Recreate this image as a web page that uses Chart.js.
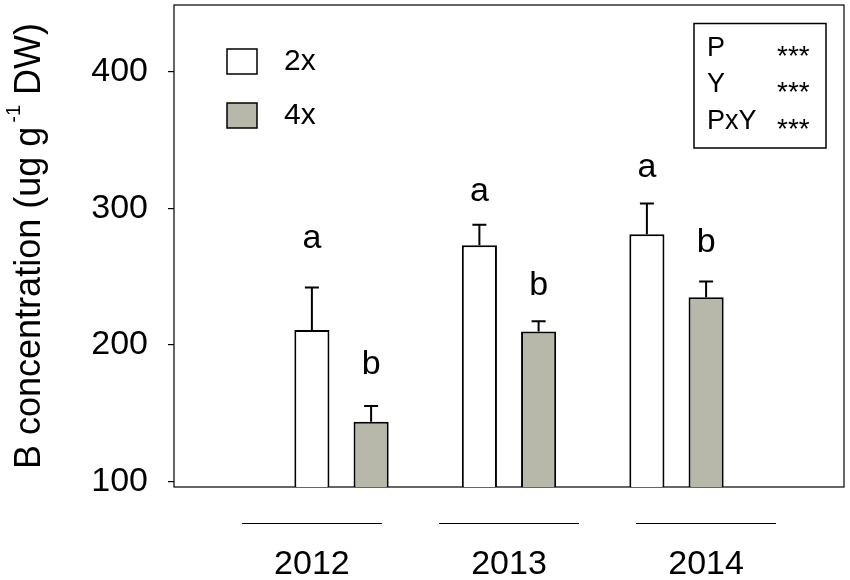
<!DOCTYPE html>
<html>
<head>
<meta charset="utf-8">
<script src="https://cdn.jsdelivr.net/npm/chart.js@4.4.0/dist/chart.umd.min.js"></script>
<style>
    html, body { margin: 0; padding: 0; background: #fff; }
    #caixa { width: 850px; height: 580px; }
</style>
</head>
<body>
<div id="caixa"><canvas id="grafico-barras"></canvas></div>
<script>
// Dados
const anos = ['2012', '2013', '2014'];
const valores2x = [211, 273, 281];
const valores4x = [144, 210, 235];
const erro2x = [31, 15, 22.5];
const erro4x = [11.5, 7.5, 11.5];
const letras2x = ['a', 'a', 'a'];
const letras4x = ['b', 'b', 'b'];
const series = ['2x', '4x'];
const ticksY = [100, 200, 300, 400];
const efeitos = ['P', 'Y', 'PxY'];
const signif = ['***', '***', '***'];

const fonte = '"Liberation Sans", Arial, sans-serif';
const cores = ['#ffffff', '#b7b7aa'];

// indices (de 0 a 34) onde ficam os rotulos dos anos no eixo de baixo
const nPos = 35;
const posAnos = [7, 17, 27];
// distancia em px entre a ponta do erro e a letra
const folgaLetras = [[40, 24, 26], [32, 26, 29]];

// categorias vazias nas pontas para centralizar os grupos
const categorias = [''].concat(anos).concat(['']);
const dados2x = [null].concat(valores2x).concat([null]);
const dados4x = [null].concat(valores4x).concat([null]);

// eixo dos rotulos dos anos: so 3 posicoes com texto
const rotulosAnos = [];
for (let i = 0; i < nPos; i++) {
    const k = posAnos.indexOf(i);
    rotulosAnos.push(k >= 0 ? anos[k] : '');
}

// tira o espaco extra que o Chart.js reserva para os rotulos das pontas
function semPadding(scale) {
    scale.paddingTop = 0;
    scale.paddingBottom = 0;
    scale.paddingLeft = 0;
    scale.paddingRight = 0;
}

const extras = {
    id: 'extras',
    beforeDatasetsDraw(chart) {
        const ctx = chart.ctx;
        const a = chart.chartArea;
        ctx.save();
        ctx.strokeStyle = '#000';
        ctx.lineWidth = 1.2;
        ctx.strokeRect(a.left, a.top, a.right - a.left, a.bottom - a.top);
        ctx.restore();
    },
    afterDatasetsDraw(chart) {
        const ctx = chart.ctx;
        const y = chart.scales.y;
        const erros = [erro2x, erro4x];
        const letras = [letras2x, letras4x];
        ctx.save();
        ctx.strokeStyle = '#000';
        ctx.fillStyle = '#000';
        ctx.lineWidth = 2;
        ctx.font = '34px ' + fonte;
        ctx.textAlign = 'center';
        ctx.textBaseline = 'alphabetic';
        chart.data.datasets.forEach(function (ds, i) {
            const meta = chart.getDatasetMeta(i);
            for (let j = 0; j < anos.length; j++) {
                const barra = meta.data[j + 1];
                const v = ds.data[j + 1];
                const topo = y.getPixelForValue(v + erros[i][j]);
                ctx.beginPath();
                ctx.moveTo(barra.x, barra.y);
                ctx.lineTo(barra.x, topo);
                ctx.moveTo(barra.x - 7, topo);
                ctx.lineTo(barra.x + 7, topo);
                ctx.stroke();
                ctx.fillText(letras[i][j], barra.x, topo - folgaLetras[i][j]);
            }
        });
        ctx.restore();
    },
    afterDraw(chart) {
        const ctx = chart.ctx;
        const a = chart.chartArea;
        ctx.save();

        // Legenda
        ctx.lineWidth = 1.5;
        ctx.strokeStyle = '#000';
        ctx.font = '30px ' + fonte;
        ctx.textAlign = 'left';
        ctx.textBaseline = 'middle';
        for (let i = 0; i < series.length; i++) {
            const bx = a.left + 53;
            const by = a.top + 44 + i * 54;
            ctx.fillStyle = cores[i];
            ctx.fillRect(bx, by, 30, 25);
            ctx.strokeRect(bx, by, 30, 25);
            ctx.fillStyle = '#000';
            ctx.fillText(series[i], bx + 57, by + 13);
        }

        // Caixa de significancia
        const sx = a.right - 150;
        const sy = a.top + 18.5;
        ctx.lineWidth = 1.5;
        ctx.strokeRect(sx, sy, 132, 124.5);
        for (let i = 0; i < efeitos.length; i++) {
            const cy = sy + 25 + i * 36.5;
            ctx.font = '27px ' + fonte;
            ctx.textBaseline = 'middle';
            ctx.fillText(efeitos[i], sx + 13, cy);
            ctx.font = '28px ' + fonte;
            ctx.textBaseline = 'alphabetic';
            ctx.fillText(signif[i], sx + 83, cy + 16);
        }

        // Linhas acima dos anos
        const x2 = chart.scales.x2;
        ctx.lineWidth = 1;
        for (let i = 0; i < posAnos.length; i++) {
            const px = x2.getPixelForValue(posAnos[i]);
            ctx.beginPath();
            ctx.moveTo(px - 70, a.bottom + 36.5);
            ctx.lineTo(px + 70, a.bottom + 36.5);
            ctx.stroke();
        }

        // Titulo do eixo Y com expoente
        const partes = [
            ['B concentration (ug g', 36, 0],
            ['-1', 20, 20],
            [' DW)', 36, 0]
        ];
        let total = 0;
        const larguras = [];
        for (let i = 0; i < partes.length; i++) {
            ctx.font = partes[i][1] + 'px ' + fonte;
            const w = ctx.measureText(partes[i][0]).width + (i == 1 ? 4 : 0);
            larguras.push(w);
            total += w;
        }
        ctx.translate(40, (a.top + a.bottom) / 2);
        ctx.rotate(-Math.PI / 2);
        ctx.textAlign = 'left';
        ctx.textBaseline = 'alphabetic';
        let pos = -total / 2;
        for (let i = 0; i < partes.length; i++) {
            ctx.font = partes[i][1] + 'px ' + fonte;
            ctx.fillText(partes[i][0], pos + (i == 1 ? 4 : 0), -partes[i][2]);
            pos += larguras[i];
        }
        ctx.restore();
    }
};

const ctx = document.getElementById('grafico-barras');
new Chart(ctx, {
    type: 'bar',
    data: {
        labels: categorias,
        datasets: [{
            label: series[0],
            data: dados2x,
            backgroundColor: cores[0],
            borderColor: '#000',
            borderWidth: 2,
            categoryPercentage: 0.707,
            barPercentage: 0.593
        }, {
            label: series[1],
            data: dados4x,
            backgroundColor: cores[1],
            borderColor: '#000',
            borderWidth: 2,
            categoryPercentage: 0.707,
            barPercentage: 0.593
        }]
    },
    options: {
        responsive: true,
        maintainAspectRatio: false,
        animation: false,
        layout: {
            padding: { top: 5, right: 6, left: 0, bottom: 0 }
        },
        scales: {
            x: {
                display: false,
                offset: false,
                grid: { display: false }
            },
            x2: {
                type: 'category',
                labels: rotulosAnos,
                position: 'bottom',
                offset: false,
                grid: { display: false, drawTicks: false },
                border: { display: false },
                afterFit: function (scale) {
                    scale.height = 93;
                    semPadding(scale);
                },
                ticks: {
                    autoSkip: false,
                    maxRotation: 0,
                    padding: 57,
                    color: '#000',
                    font: { size: 34, family: fonte }
                }
            },
            y: {
                min: 96.3,
                max: 448.5,
                border: { display: false },
                grid: {
                    display: true,
                    drawOnChartArea: false,
                    drawTicks: true,
                    tickLength: 6,
                    color: '#000',
                    lineWidth: 1.2
                },
                afterBuildTicks: function (scale) {
                    scale.ticks = ticksY.map(function (v) { return { value: v }; });
                },
                afterFit: function (scale) {
                    scale.width = 174;
                    semPadding(scale);
                },
                ticks: {
                    padding: 20,
                    color: '#000',
                    font: { size: 34, family: fonte }
                }
            }
        },
        plugins: {
            legend: { display: false },
            tooltip: { enabled: false }
        }
    },
    plugins: [extras]
});
</script>
</body>
</html>
